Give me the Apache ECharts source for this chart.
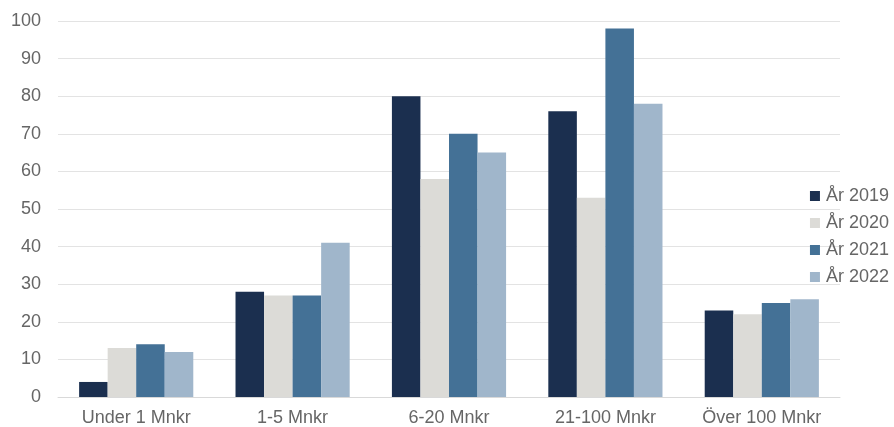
<!DOCTYPE html>
<html>
<head>
<meta charset="utf-8">
<script src="https://cdn.jsdelivr.net/npm/echarts@6/dist/echarts.min.js"></script>
<style>
  html, body { margin: 0; padding: 0; background: #fff; }
  #chart { width: 894px; height: 427px; }
</style>
</head>
<body>
<div id="chart"></div>
<script>
const categories = ['Under 1 Mnkr', '1-5 Mnkr', '6-20 Mnkr', '21-100 Mnkr', 'Över 100 Mnkr'];
const seriesNames = ['År 2019', 'År 2020', 'År 2021', 'År 2022'];
const values2019 = [4, 28, 80, 76, 23];
const values2020 = [13, 27, 58, 53, 22];
const values2021 = [14, 27, 70, 98, 25];
const values2022 = [12, 41, 65, 78, 26];
const yTicks = [0, 10, 20, 30, 40, 50, 60, 70, 80, 90, 100];

const colors = ['#1b2f4f', '#dcdbd7', '#447196', '#a0b6cb'];
const allValues = [values2019, values2020, values2021, values2022];
const font = 'Liberation Sans';
const textColor = '#666666';

const chart = echarts.init(document.getElementById('chart'));
chart.setOption({
  animation: false,
  color: colors,
  grid: { left: 58, right: 54, top: 21, bottom: 30 },
  legend: {
    orient: 'vertical',
    right: 0,
    top: 182,
    itemWidth: 10,
    itemHeight: 10,
    itemGap: 9,
    icon: 'rect',
    textStyle: { fontFamily: font, fontSize: 18, color: textColor, padding: [0, 0, 0, 1] },
    data: seriesNames
  },
  xAxis: {
    type: 'category',
    data: categories,
    axisLine: { lineStyle: { color: '#d9d9d9' } },
    axisTick: { show: false },
    axisLabel: { fontFamily: font, fontSize: 18, color: textColor, margin: 12 }
  },
  yAxis: {
    type: 'value',
    min: yTicks[0],
    max: yTicks[yTicks.length - 1],
    interval: 10,
    axisLine: { show: false },
    axisTick: { show: false },
    splitLine: { lineStyle: { color: '#e3e3e3', width: 1 } },
    axisLabel: { fontFamily: font, fontSize: 18, color: textColor, margin: 17 }
  },
  series: seriesNames.map((name, i) => ({
    name,
    type: 'bar',
    data: allValues[i],
    barGap: '0%',
    barCategoryGap: '27%',
    itemStyle: { color: colors[i] }
  }))
});
</script>
</body>
</html>
